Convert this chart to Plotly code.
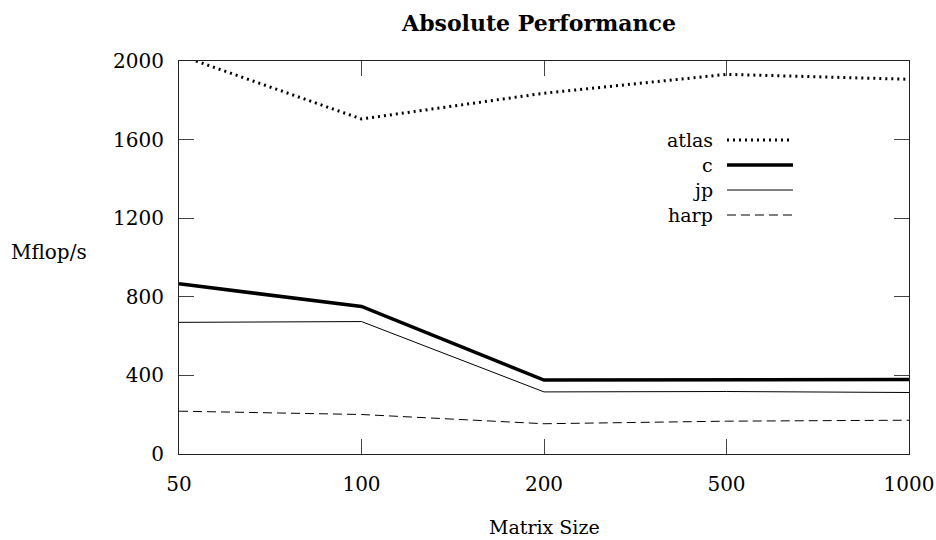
import plotly.graph_objects as go

matrix_sizes = ["50", "100", "200", "500", "1000"]
atlas = [2030, 1705, 1836, 1932, 1907]
c_vals = [866, 751, 376, 379, 379]
jp = [670, 674, 316, 318, 313]
harp = [218, 201, 154, 167, 172]
y_ticks = [0, 400, 800, 1200, 1600, 2000]

FONT = "DejaVu Serif"
L, R, T, B = 179, 909, 61, 454
W, H = 936, 540

series = [
    ("atlas", atlas, dict(color="black", width=3, dash="2px,4px")),
    ("c", c_vals, dict(color="black", width=3.5)),
    ("jp", jp, dict(color="black", width=1)),
    ("harp", harp, dict(color="black", width=1, dash="9px,5px")),
]

fig = go.Figure()
for name, vals, line in series:
    fig.add_trace(go.Scatter(x=matrix_sizes, y=vals, mode="lines", name=name,
                             line=line, showlegend=False))

def px2paper(px, py):
    return (px - L) / (R - L), (B - py) / (B - T)

# gnuplot-style key: text on the left, line sample on the right
leg_y = [140, 165, 190, 215]
for (name, vals, line), py in zip(series, leg_y):
    x0, y0 = px2paper(727, py)
    x1, _ = px2paper(793, py)
    fig.add_shape(type="line", xref="paper", yref="paper", x0=x0, x1=x1, y0=y0, y1=y0,
                  line=line)
    tx, _ = px2paper(714, py)
    fig.add_annotation(xref="paper", yref="paper", x=tx, y=y0, text=name, showarrow=False,
                       xanchor="right", yanchor="middle", borderpad=0,
                       font=dict(family=FONT, size=19, color="black"))

# y-axis label (horizontal)
fig.add_annotation(xref="paper", yref="paper", x=(10 - L) / (R - L), y=(B - 252) / (B - T),
                   text="Mflop/s", showarrow=False, xanchor="left", yanchor="middle",
                   borderpad=0, font=dict(family=FONT, size=20, color="black"))
# x-axis label
fig.add_annotation(xref="paper", yref="paper", x=(544 - L) / (R - L), y=(B - 539) / (B - T),
                   text="Matrix Size", showarrow=False, xanchor="center", yanchor="bottom",
                   borderpad=0, font=dict(family=FONT, size=19, color="black"))

axis_common = dict(showgrid=False, zeroline=False, showline=True, linecolor="#222",
                   linewidth=1, mirror="ticks", ticks="inside", ticklen=15,
                   tickcolor="#444", tickwidth=1, automargin=False,
                   tickfont=dict(family=FONT, size=20, color="black"))

fig.update_layout(
    width=W, height=H,
    margin=dict(l=L, r=W - R, t=T, b=H - B, pad=0),
    paper_bgcolor="white", plot_bgcolor="white",
    font=dict(family=FONT, color="black"),
    title=dict(text="<b>Absolute Performance</b>", x=539 / W, xanchor="center",
               y=1 - 23 / H, yanchor="middle", automargin=False,
               font=dict(family=FONT, size=22, color="black")),
    xaxis=dict(type="category", range=[0, len(matrix_sizes) - 1],
               ticklabelstandoff=12, **axis_common),
    yaxis=dict(range=[0, 2000], tickvals=y_ticks, ticktext=[str(v) for v in y_ticks],
               ticklabelstandoff=10, **axis_common),
)

fig.write_html("out.html")
